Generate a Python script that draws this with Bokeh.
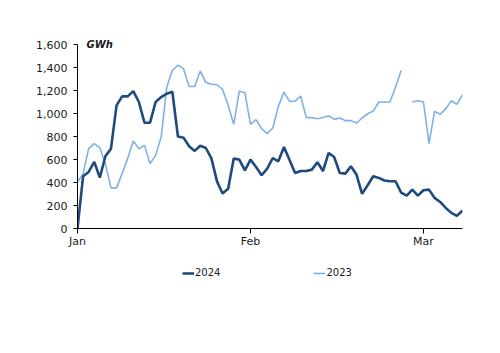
from bokeh.plotting import figure
from bokeh.layouts import column
from bokeh.models import Range1d, FixedTicker, NumeralTickFormatter, Legend, LegendItem, Label
from bokeh.embed import file_html
from bokeh.resources import INLINE

# --- data -------------------------------------------------------------
month_labels = ["Jan", "Feb", "Mar"]
month_ticks = [0, 31, 62]
y_ticks = [0, 200, 400, 600, 800, 1000, 1200, 1400, 1600]

day_index = list(range(70))

gwh_2024 = [0, 454, 492, 579, 443, 628, 694, 1071, 1149, 1149,
            1195, 1100, 920, 920, 1100, 1143, 1172, 1189, 800, 790,
            715, 675, 720, 700, 610, 410, 305, 345, 608, 599,
            506, 599, 535, 463, 521, 613, 584, 709, 595, 483,
            500, 500, 512, 576, 500, 657, 622, 483, 477, 541,
            469, 301, 376, 454, 440, 417, 411, 411, 312, 286,
            338, 286, 333, 338, 266, 231, 179, 136, 110, 156]

gwh_2023 = [405, 477, 694, 738, 703, 560, 353, 353, 477, 610,
            761, 694, 723, 564, 636, 796, 1230, 1374, 1420, 1390,
            1235, 1235, 1369, 1270, 1255, 1250, 1209, 1071, 906, 1195,
            1181, 906, 946, 868, 825, 874, 1062, 1186, 1105, 1108,
            1152, 964, 964, 955, 966, 981, 949, 961, 938, 938,
            917, 961, 998, 1021, 1100, 1100, 1100, 1230, 1374, float("nan"),
            1100, 1111, 1100, 738, 1021, 992, 1042, 1111, 1079, 1163]

series_names = ["2024", "2023"]
unit_label = "GWh"

DARK = "#1f4a7f"
LIGHT = "#7fb1e6"
FONT = "DejaVu Sans"
W24, W23 = 2.6, 1.6

# --- main chart -------------------------------------------------------
p = figure(width=500, height=255, output_backend="svg", toolbar_location=None,
           x_range=Range1d(0, 69), y_range=Range1d(0, 1661),
           min_border_left=77, min_border_right=38,
           min_border_top=37, min_border_bottom=27)
p.outline_line_color = None
p.xgrid.visible = False
p.ygrid.visible = False
p.background_fill_color = "white"
p.border_fill_color = "white"

p.line(day_index, gwh_2023, line_color=LIGHT, line_width=W23)
p.line(day_index, gwh_2024, line_color=DARK, line_width=W24)

ya = p.yaxis[0]
ya.bounds = (0, 1600)
ya.ticker = FixedTicker(ticks=y_ticks)
ya.formatter = NumeralTickFormatter(format="0,0")
ya.major_tick_out = 4
ya.major_tick_in = 0
ya.minor_tick_out = 0
ya.minor_tick_in = 0
ya.major_label_standoff = 6
ya.major_label_text_font = FONT
ya.major_label_text_font_size = "11px"
ya.major_label_text_color = "#1a1a1a"
ya.axis_line_color = "#000000"
ya.major_tick_line_color = "#000000"

xa = p.xaxis[0]
xa.ticker = FixedTicker(ticks=month_ticks)
xa.major_label_overrides = {t: l for t, l in zip(month_ticks, month_labels)}
xa.major_tick_out = 5
xa.major_tick_in = 0
xa.minor_tick_out = 0
xa.minor_tick_in = 0
xa.major_label_standoff = 1
xa.major_label_text_font = FONT
xa.major_label_text_font_size = "11px"
xa.major_label_text_color = "#1a1a1a"
xa.axis_line_color = "#000000"
xa.major_tick_line_color = "#000000"

p.add_layout(Label(x=0, y=1600, x_offset=9, text=unit_label,
                   text_font=FONT, text_font_style="bold italic",
                   text_font_size="10px", text_baseline="middle",
                   text_color="#1a1a1a"))

# --- legend strip (its frame is aligned with the chart's frame) -------
# the series are drawn here only as legend keys; the visible range holds
# no data, so nothing but the legend shows
leg = figure(width=500, height=98, output_backend="svg", toolbar_location=None,
             x_range=Range1d(-3, -2), y_range=Range1d(0, 1),
             x_axis_type=None, y_axis_type=None,
             min_border_left=0, min_border_right=0,
             min_border_top=0, min_border_bottom=0)
leg.outline_line_color = None
leg.xgrid.visible = False
leg.ygrid.visible = False
leg.background_fill_color = "white"
leg.border_fill_color = "white"

k24 = leg.line(day_index, gwh_2024, line_color=DARK, line_width=W24)
k23 = leg.line(day_index, gwh_2023, line_color=LIGHT, line_width=W23)

legend = Legend(items=[LegendItem(label=series_names[0], renderers=[k24]),
                       LegendItem(label=series_names[1], renderers=[k23])],
                orientation="horizontal", location=(105, 75),
                border_line_color=None, background_fill_alpha=0,
                glyph_width=12, glyph_height=10, label_standoff=1,
                spacing=93, padding=0, margin=0,
                label_text_font=FONT, label_text_font_size="10px",
                label_text_color="#1a1a1a")
leg.add_layout(legend)

layout = column(p, leg, spacing=0)
open("out.html", "w").write(file_html(layout, INLINE))
